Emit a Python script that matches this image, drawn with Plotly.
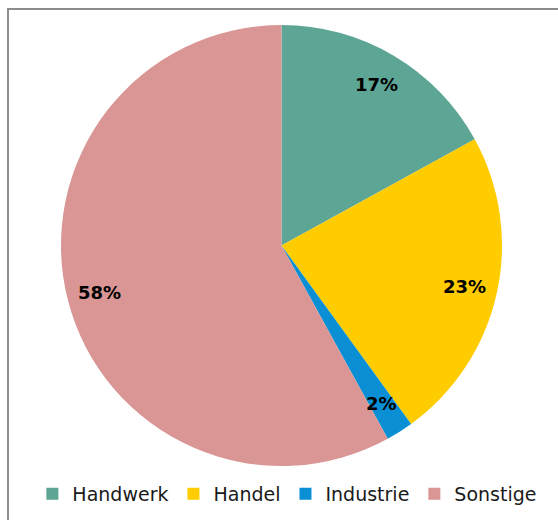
import math
import plotly.graph_objects as go

# Shares by sector
categories = ["Handwerk", "Handel", "Industrie", "Sonstige"]
shares = [17, 23, 2, 58]
colors = ["#5DA595", "#FFCC00", "#0A8FD5", "#D99694"]

W, H = 558, 520
cx, cy, r = 281.5, 245.5, 220.5
label_radius = 0.85  # fraction of the pie radius where value labels sit

fig = go.Figure(
    go.Pie(
        labels=categories,
        values=shares,
        sort=False,
        direction="clockwise",
        rotation=0,
        marker=dict(colors=colors, line=dict(width=0)),
        textinfo="none",
        domain=dict(
            x=[(cx - r) / W, (cx + r) / W],
            y=[1 - (cy + r) / H, 1 - (cy - r) / H],
        ),
        hoverinfo="label+percent",
    )
)

# Value labels placed along each slice's mid-angle (clockwise from 12 o'clock)
total = sum(shares)
annotations = []
cum = 0
for val in shares:
    mid = (cum + val / 2) / total * 2 * math.pi
    cum += val
    px = cx + label_radius * r * math.sin(mid)
    py = cy - label_radius * r * math.cos(mid)
    annotations.append(
        dict(
            x=px / W,
            y=1 - py / H,
            xref="paper",
            yref="paper",
            text=f"{val}%",
            showarrow=False,
            xanchor="center",
            yanchor="middle",
            font=dict(family="DejaVu Sans", size=18, color="#000000", weight="bold"),
        )
    )

fig.update_layout(
    width=W,
    height=H,
    margin=dict(l=0, r=0, t=0, b=0),
    paper_bgcolor="#FFFFFF",
    plot_bgcolor="#FFFFFF",
    showlegend=True,
    legend=dict(
        orientation="h",
        x=0.515,
        xanchor="center",
        y=(H - 494) / H,
        yanchor="middle",
        font=dict(family="DejaVu Sans", size=19, color="#1A1A1A"),
        itemwidth=30,
        traceorder="normal",
    ),
    annotations=annotations,
    shapes=[
        dict(
            type="rect",
            xref="paper",
            yref="paper",
            x0=8 / W,
            y0=-0.1,
            x1=1.1,
            y1=1 - 9 / H,
            line=dict(color="#8C8C8C", width=2),
            fillcolor="rgba(0,0,0,0)",
        )
    ],
)

fig.write_html("out.html")
